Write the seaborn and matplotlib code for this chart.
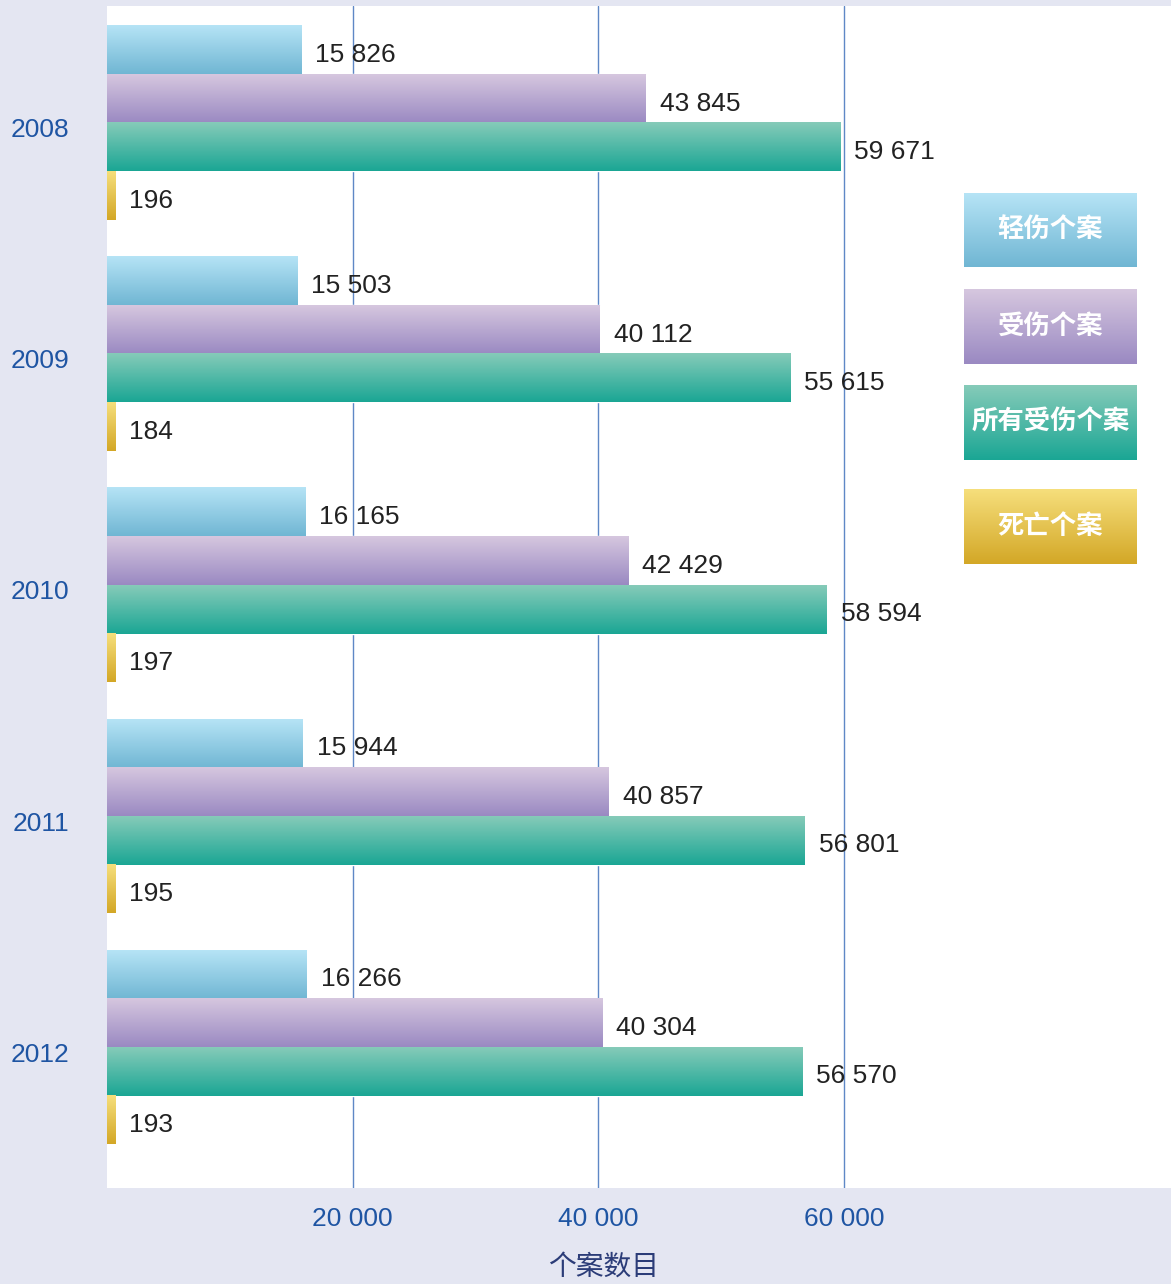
import numpy as np
import pandas as pd
import matplotlib
matplotlib.use("Agg")
import matplotlib.pyplot as plt
import matplotlib.transforms as mtrans
from matplotlib.colors import LinearSegmentedColormap
import seaborn as sns

years = ["2008", "2009", "2010", "2011", "2012"]
series_names = ["轻伤个案", "受伤个案", "所有受伤个案", "死亡个案"]
minor_injury = [15826, 15503, 16165, 15944, 16266]
injured = [43845, 40112, 42429, 40857, 40304]
all_injured = [59671, 55615, 58594, 56801, 56570]
deaths = [196, 184, 197, 195, 193]
x_ticks = [20000, 40000, 60000]
x_label = "个案数目"

# gradient colours (top, bottom) per series
grads = [("#b6e4f6", "#70b6d3"),
         ("#d6c7df", "#9a89c2"),
         ("#86cbb9", "#1aa694"),
         ("#f6df7c", "#d3a726")]

W, H = 1171, 1284
sns.set_theme(style="white")
plt.rcParams["font.family"] = ["Liberation Sans", "Noto Sans CJK SC", "DejaVu Sans"]

bg = "#e4e6f2"
fig = plt.figure(figsize=(W / 100, H / 100), dpi=100, facecolor=bg)
ax = fig.add_axes([107 / W, 1 - 1188 / H, 1 - 107 / W, (1188 - 6) / H])
ax.set_facecolor("white")

rows = []
for name, vals in zip(series_names, [minor_injury, injured, all_injured, deaths]):
    for y, v in zip(years, vals):
        rows.append({"year": y, "series": name, "value": v})
df = pd.DataFrame(rows)

palette = {n: g[1] for n, g in zip(series_names, grads)}
sns.barplot(data=df, y="year", x="value", hue="series", hue_order=series_names,
            order=years, orient="h", palette=palette, width=0.84, gap=0,
            legend=False, saturation=1, ax=ax, zorder=2, err_kws={"linewidth": 0})

xmax = 86600
ax.set_xlim(0, xmax)
ax.set_ylim(4.61, -0.506)

grad_arr = np.linspace(0, 1, 256).reshape(-1, 1)
min_w = 700  # minimum displayed width (data units) so tiny bars stay visible
for i, cont in enumerate(ax.containers):
    cmap = LinearSegmentedColormap.from_list(f"g{i}", [grads[i][0], grads[i][1]])
    for patch, v in zip(cont.patches, cont.datavalues):
        x0 = patch.get_x()
        w = patch.get_width()
        y0 = patch.get_y()
        h = patch.get_height()
        yt, yb = min(y0, y0 + h), max(y0, y0 + h)
        x1 = x0 + max(w, min_w)
        ax.imshow(grad_arr, cmap=cmap, aspect="auto", origin="upper",
                  extent=[x0, x1, yb, yt], zorder=3, interpolation="bilinear")
        lx = x0 + max(w, min_w)
        ax.annotate(f"{int(v):,}".replace(",", " "), xy=(lx, (yt + yb) / 2),
                    xytext=(10, -3.5), textcoords="offset points",
                    va="center", ha="left", fontsize=19, color="#222222",
                    zorder=5)

ax.set_xlim(0, xmax)
ax.set_ylim(4.61, -0.506)

ax.set_xticks(x_ticks)
ax.set_xticklabels([f"{t:,}".replace(",", " ") for t in x_ticks])
ax.xaxis.grid(True, color="#5f88c6", linewidth=1.0, zorder=0)
ax.set_axisbelow(True)
ax.tick_params(axis="x", length=3, width=1.0, color="#5f88c6", pad=11,
               labelsize=19, labelcolor="#1f55a3")
ax.tick_params(axis="y", length=0, pad=27, labelsize=19, labelcolor="#1f55a3")
shift = mtrans.ScaledTranslation(0, -5 / 100, fig.dpi_scale_trans)
for lbl in ax.get_yticklabels():
    lbl.set_transform(lbl.get_transform() + shift)
for s in ax.spines.values():
    s.set_visible(False)
ax.set_ylabel("")
ax.set_xlabel(x_label, fontsize=20, color="#2b3c78",
              family=["Noto Sans CJK SC", "DejaVu Sans"])
ax.xaxis.set_label_coords((604 - 107) / (W - 107), -(1267 - 1188) / (1188 - 6))
ax.xaxis.label.set_va("center")

# legend boxes
boxes = [(193, 267), (289, 364), (385, 460), (489, 564)]
for (t, b), name, g in zip(boxes, series_names, grads):
    lax = fig.add_axes([964 / W, 1 - b / H, (1137 - 964) / W, (b - t) / H])
    cmap = LinearSegmentedColormap.from_list("l" + name, [g[0], g[1]])
    lax.imshow(grad_arr, cmap=cmap, aspect="auto", origin="upper",
               extent=[0, 1, 0, 1], interpolation="bilinear")
    lax.set_xlim(0, 1)
    lax.set_ylim(0, 1)
    lax.axis("off")
    lax.text(0.5, 0.5, name, ha="center", va="center", color="white",
             fontsize=19, fontweight="bold",
             family=["Noto Sans CJK SC", "DejaVu Sans"])

fig.savefig("out.png", dpi=100, facecolor=bg)
